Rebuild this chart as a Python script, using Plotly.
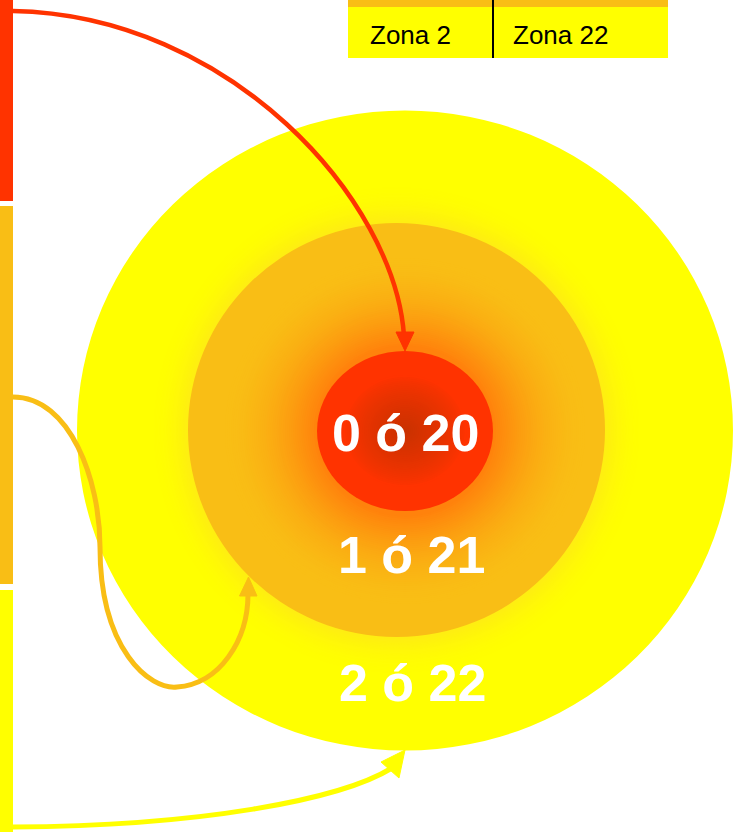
import plotly.graph_objects as go

# ---- data ----
zone_labels = ["0 ó 20", "1 ó 21", "2 ó 22"]
zone_colors = ["#FF3300", "#F9BE15", "#FFFF00"]
table_labels = ["Zona 2", "Zona 22"]
table_header_color = "#F9BE15"
table_body_color = "#FFFF00"

W, H = 742, 832


def hex2rgb(h):
    h = h.lstrip("#")
    return tuple(int(h[i:i + 2], 16) for i in (0, 2, 4))


def lerp(c1, c2, t):
    a, b = hex2rgb(c1), hex2rgb(c2)
    return "rgb(%d,%d,%d)" % tuple(round(a[i] + (b[i] - a[i]) * t) for i in range(3))


shapes = []


def ell(cx, cy, rx, ry, color):
    shapes.append(dict(type="circle", xref="x", yref="y", x0=cx - rx, x1=cx + rx,
                       y0=cy - ry, y1=cy + ry, fillcolor=color, line=dict(width=0),
                       layer="below"))


def rect(x0, y0, x1, y1, color):
    shapes.append(dict(type="rect", xref="x", yref="y", x0=x0, x1=x1, y0=y0, y1=y1,
                       fillcolor=color, line=dict(width=0), layer="below"))


# outer zone
ell(405, 430.5, 328, 320, zone_colors[2])
# glow around middle zone
N = 30
for i in range(N):
    t = i / (N - 1)
    r = 250 - (250 - 209) * t
    ell(396.5, 430, r, r, lerp("#FFFF00", "#FEEE12", t ** 2))
# middle zone
ell(396.5, 430, 208.5, 207, zone_colors[1])
N = 45
for i in range(N):
    t = i / (N - 1)
    r = 180 - (180 - 89) * t
    ell(405, 431, r, r * 0.96, lerp("#F9BE15", "#FF820C", t ** 1.7))
# inner zone
ell(405, 431, 88, 80, zone_colors[0])
N = 30
for i in range(N):
    t = i / (N - 1)
    s = 0.7 - 0.68 * t
    ell(405, 431, 88 * s, 80 * s, lerp("#FF3300", "#CA3200", t ** 0.8))

# left bars
rect(0, 0, 13, 201, zone_colors[0])
rect(0, 206, 13, 584, zone_colors[1])
rect(0, 590, 13, 832, zone_colors[2])

# table
rect(348, 0, 668, 7, table_header_color)
rect(348, 7, 668, 58, table_body_color)
shapes.append(dict(type="line", xref="x", yref="y", x0=493, x1=493, y0=0, y1=58,
                   line=dict(color="black", width=2)))


def curve(path, color, width):
    shapes.append(dict(type="path", xref="x", yref="y", path=path,
                       line=dict(color=color, width=width), fillcolor="rgba(0,0,0,0)"))


def head(pts, color):
    p = "M %g,%g L %g,%g L %g,%g Z" % (pts[0] + pts[1] + pts[2])
    shapes.append(dict(type="path", xref="x", yref="y", path=p,
                       line=dict(color=color, width=1), fillcolor=color))


# arrows
curve("M 13,11 C 230,15 395,200 404,336", zone_colors[0], 4.5)
head([(396, 332), (414, 332), (405, 351)], zone_colors[0])

curve("M 13,397 C 70,397 100,480 100,547 C 100,650 150,690 177,687 "
      "C 220,684 248,640 248,594", zone_colors[1], 5)
head([(239.5, 596), (257, 596), (248.5, 577)], zone_colors[1])

curve("M 13,827 C 200,826 340,800 392,768", zone_colors[2], 5)
head([(381, 762), (399, 778), (405, 750)], zone_colors[2])

fig = go.Figure()
fig.add_trace(go.Scatter(x=[0, W], y=[0, H], mode="markers",
                         marker=dict(opacity=0), hoverinfo="skip", showlegend=False))

annotations = []
label_pos = [(405, 433), (411, 555), (412, 683)]
for lab, (x, y) in zip(zone_labels, label_pos):
    annotations.append(dict(x=x, y=y, xref="x", yref="y", text="<b>%s</b>" % lab,
                            showarrow=False, xanchor="center", yanchor="middle",
                            font=dict(family="Liberation Sans, Arial", size=52,
                                      color="white")))
for lab, x in zip(table_labels, [368, 511]):
    annotations.append(dict(x=x, y=35, xref="x", yref="y", text=lab, showarrow=False,
                            xanchor="left", yanchor="middle",
                            font=dict(family="Liberation Sans, Arial", size=26,
                                      color="black")))

fig.update_layout(
    width=W, height=H, margin=dict(l=0, r=0, t=0, b=0),
    paper_bgcolor="white", plot_bgcolor="white",
    xaxis=dict(range=[0, W], visible=False, fixedrange=True),
    yaxis=dict(range=[H, 0], visible=False, fixedrange=True),
    shapes=shapes, annotations=annotations, showlegend=False,
)
fig.write_html("out.html", config={"displayModeBar": False},
               post_script="document.body.style.margin='0';"
                           "document.body.style.overflow='hidden';")
